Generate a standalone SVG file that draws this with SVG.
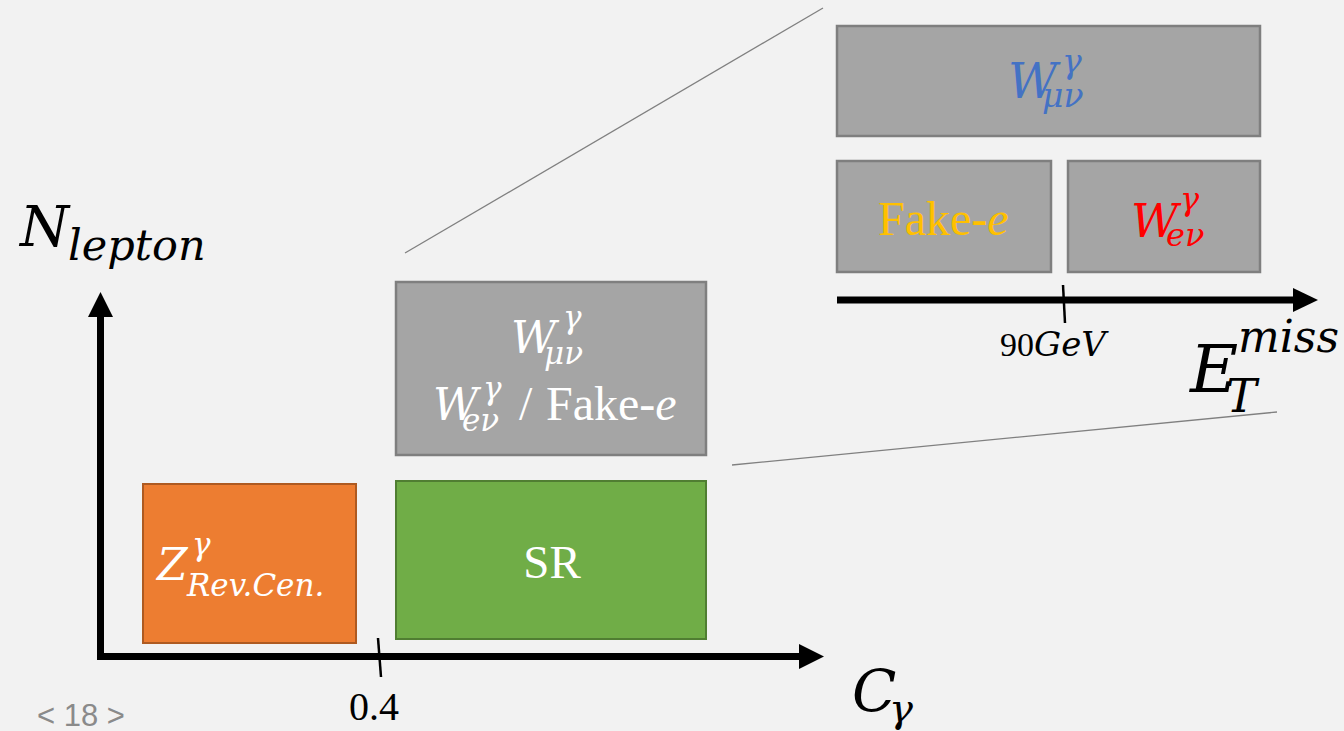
<svg xmlns="http://www.w3.org/2000/svg" width="1344" height="731" viewBox="0 0 1344 731">
<style>
.gray{fill:#a5a5a5;stroke:#7f7f7f;stroke-width:2.5}
.orange{fill:#ed7d31;stroke:#ae5a21;stroke-width:2}
.green{fill:#70ad47;stroke:#507e32;stroke-width:2}
.axis{stroke:#000;stroke-width:7;fill:none}
.thin{stroke:#808080;stroke-width:1.3;fill:none}
</style>
<rect width="1344" height="731" fill="#f2f2f2"/>

<g id="connectors">
  <line class="thin" x1="405" y1="253" x2="823" y2="8"/>
  <line class="thin" x1="732" y1="465" x2="1277" y2="412"/>
  <path class="axis" d="M100.5,657 V314"/>
  <polygon points="100.5,292 88,317 113,317" fill="#000"/>
  <path class="axis" d="M97,656.5 H802"/>
  <polygon points="824,656.5 799,644 799,669" fill="#000"/>
  <line x1="378" y1="638" x2="381" y2="677" stroke="#000" stroke-width="2.5"/>
  <path class="axis" d="M837,300 H1296"/>
  <polygon points="1318,300 1293,288 1293,312" fill="#000"/>
  <line x1="1063" y1="285" x2="1065" y2="323" stroke="#000" stroke-width="2.5"/>
</g>

<g id="axis-labels">
  <text font-family="DejaVu Serif" font-style="italic" x="20" y="246" font-size="56">N<tspan x="68" y="260" font-size="43">lepton</tspan></text>
  <text font-family="DejaVu Serif" font-style="italic" x="852" y="711" font-size="58">C<tspan x="889" y="722" font-size="40">γ</tspan></text>
  <text font-family="Liberation Serif" x="349" y="720" font-size="40">0.4</text>
  <text x="37" y="726" font-size="31" font-family="Liberation Sans" fill="#8a8a8a">&lt; 18 &gt;</text>
  <text font-family="Liberation Serif" x="1000" y="356" font-size="34">90<tspan font-family="DejaVu Serif" font-style="italic">GeV</tspan></text>
  <text font-family="DejaVu Serif" font-style="italic" x="1190" y="392" font-size="66">E<tspan x="1238" y="352" font-size="44">miss</tspan><tspan x="1226" y="412" font-size="46">T</tspan></text>
</g>

<g id="node-zrevcen">
  <rect class="orange" x="143" y="484" width="213" height="159"/>
  <text font-family="DejaVu Serif" font-style="italic" fill="#fff" x="157" y="580" font-size="44">Z<tspan x="192" y="555" font-size="31">γ</tspan><tspan x="187" y="596" font-size="31">Rev.Cen.</tspan></text>
</g>

<g id="node-sr">
  <rect class="green" x="396" y="481" width="310" height="158"/>
  <text font-family="Liberation Serif" fill="#fff" x="552" y="578" font-size="47" text-anchor="middle">SR</text>
</g>

<g id="node-cr">
  <rect class="gray" x="396" y="282" width="310" height="173"/>
  <text font-family="DejaVu Serif" font-style="italic" fill="#fff" x="511" y="353" font-size="44">W<tspan x="563" y="328" font-size="31">γ</tspan><tspan x="544" y="364" font-size="31">μν</tspan></text>
  <text font-family="DejaVu Serif" font-style="italic" fill="#fff" x="433" y="420" font-size="44">W<tspan x="483" y="399" font-size="31">γ</tspan><tspan x="462" y="431" font-size="31">eν</tspan><tspan x="519" y="420" font-size="48" font-style="normal" font-family="Liberation Serif">/</tspan><tspan x="546" y="420" font-size="48" font-style="normal" font-family="Liberation Serif">Fake-<tspan font-style="italic">e</tspan></tspan></text>
</g>

<g id="node-wmunu">
  <rect class="gray" x="837" y="26" width="423" height="110"/>
  <text font-family="DejaVu Serif" font-style="italic" fill="#4472c4" x="1008" y="98" font-size="48">W<tspan x="1062" y="73" font-size="33">γ</tspan><tspan x="1042" y="107" font-size="33">μν</tspan></text>
</g>

<g id="node-fake">
  <rect class="gray" x="837" y="161" width="214" height="111"/>
  <text font-family="Liberation Serif" x="878" y="235" font-size="48" fill="#ffc000">Fake-<tspan font-style="italic">e</tspan></text>
</g>

<g id="node-wenu">
  <rect class="gray" x="1068" y="161" width="192" height="111"/>
  <text font-family="DejaVu Serif" font-style="italic" fill="#ff0000" x="1131" y="237" font-size="46">W<tspan x="1180" y="210" font-size="32">γ</tspan><tspan x="1166" y="246" font-size="32">eν</tspan></text>
</g>
</svg>
